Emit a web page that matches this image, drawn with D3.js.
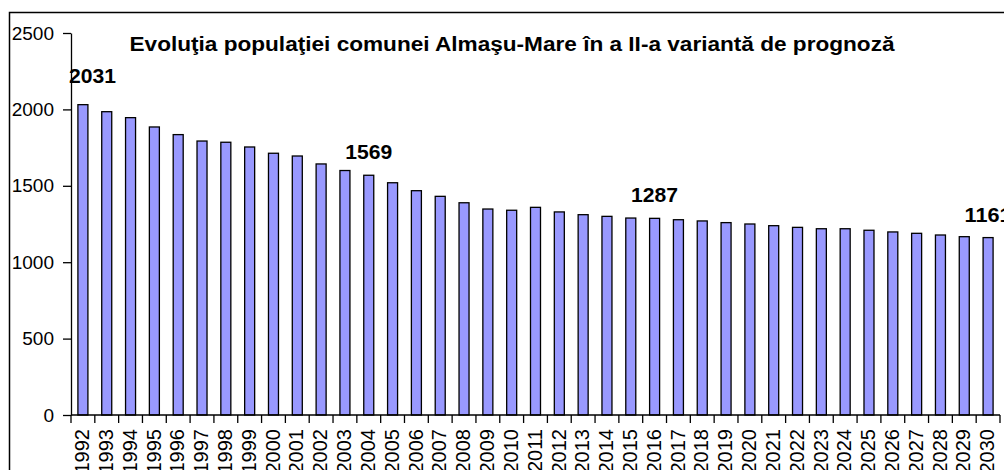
<!DOCTYPE html>
<html>
<head>
<meta charset="utf-8">
<script src="https://cdn.jsdelivr.net/npm/d3@7"></script>
<style>
  html, body { margin: 0; padding: 0; background: #fff; }
  svg { display: block; }
  text { font-family: "Liberation Sans", Arial, Helvetica, sans-serif; fill: #000; }
</style>
</head>
<body>
<svg id="chart" width="1004" height="470"></svg>
<script>
// Population forecast, variant II
const years = ["1992","1993","1994","1995","1996","1997","1998","1999","2000","2001",
  "2002","2003","2004","2005","2006","2007","2008","2009","2010","2011",
  "2012","2013","2014","2015","2016","2017","2018","2019","2020","2021",
  "2022","2023","2024","2025","2026","2027","2028","2029","2030"];
const population = [2031,1985,1946,1885,1835,1793,1785,1754,1713,1695,
  1643,1600,1569,1520,1468,1431,1389,1348,1340,1359,
  1329,1311,1300,1289,1287,1278,1270,1259,1250,1239,
  1228,1219,1219,1209,1198,1189,1178,1167,1161];
const yTicks = [0, 500, 1000, 1500, 2000, 2500];
const labeledYears = ["1992", "2004", "2016", "2030"];
const title = "Evoluţia populaţiei comunei Almaşu-Mare în a II-a variantă de prognoză";

const svg = d3.select("#chart");
const plot = { left: 71, right: 1000, top: 33, bottom: 415 };

const x = d3.scaleBand().domain(years).range([plot.left, plot.right]);
const y = d3.scaleLinear().domain([0, 2500]).range([plot.bottom, plot.top]);

// outer chart frame (extends past the visible area on the right and bottom)
svg.append("rect")
  .attr("x", 9.5).attr("y", 12.5)
  .attr("width", 1100).attr("height", 600)
  .attr("fill", "#fff").attr("stroke", "#000").attr("stroke-width", 1.5);

// bars
const barW = x.bandwidth() * 0.42;
svg.append("g").selectAll("rect")
  .data(years)
  .join("rect")
  .attr("x", (d) => x(d) + (x.bandwidth() - barW) / 2)
  .attr("y", (d, i) => y(population[i]))
  .attr("width", barW)
  .attr("height", (d, i) => y(0) - y(population[i]))
  .attr("fill", "#9999FF")
  .attr("stroke", "#000")
  .attr("stroke-width", 1.3);

// y axis
const yAxis = svg.append("g")
  .attr("transform", `translate(${plot.left},0)`)
  .call(d3.axisLeft(y).tickValues(yTicks).tickFormat(d3.format("d"))
    .tickSize(8).tickPadding(9).tickSizeOuter(0));
yAxis.selectAll("path, line").attr("stroke", "#000").attr("stroke-width", 1.3);
yAxis.selectAll("text")
  .style("font-size", "19px")
  .style("font-family", "'Liberation Sans', Arial, sans-serif")
  .attr("fill", "#000");

// x axis: ticks sit on category boundaries
const xg = svg.append("g").attr("transform", `translate(0,${plot.bottom})`);
xg.append("line")
  .attr("x1", plot.left).attr("x2", plot.right)
  .attr("stroke", "#000").attr("stroke-width", 1.3);
const boundaries = years.map((d) => x(d)).concat([plot.right]);
xg.selectAll("line.tick")
  .data(boundaries)
  .join("line")
  .attr("class", "tick")
  .attr("x1", (d) => d).attr("x2", (d) => d)
  .attr("y1", 0).attr("y2", 8)
  .attr("stroke", "#000").attr("stroke-width", 1.3);
xg.selectAll("text")
  .data(years)
  .join("text")
  .attr("transform", (d) => `translate(${x(d) + x.bandwidth() / 2 - 1},14) rotate(-90)`)
  .attr("text-anchor", "end")
  .attr("dy", "0.36em")
  .style("font-size", "20px")
  .text((d) => d);

// value labels over selected bars
svg.append("g").selectAll("text")
  .data(labeledYears)
  .join("text")
  .attr("x", (d) => x(d) + x.bandwidth() / 2)
  .attr("y", (d) => y(population[years.indexOf(d)]) - 16)
  .attr("text-anchor", "middle")
  .attr("textLength", 47)
  .attr("lengthAdjust", "spacingAndGlyphs")
  .style("font-size", "21px")
  .style("font-weight", "bold")
  .text((d) => population[years.indexOf(d)])
  .each(function (d, i) {
    // the first label is lifted clear of the bar and kept right of the axis
    if (i === 0) {
      const cx = Math.max(x(d) + x.bandwidth() / 2, plot.left + 47 / 2 - 2);
      d3.select(this).attr("x", cx).attr("y", y(population[0]) - 22);
    }
  });

// title
svg.append("text")
  .attr("x", 512)
  .attr("y", 51)
  .attr("text-anchor", "middle")
  .attr("textLength", 765)
  .attr("lengthAdjust", "spacingAndGlyphs")
  .style("font-size", "20px")
  .style("font-weight", "bold")
  .text(title);
</script>
</body>
</html>
